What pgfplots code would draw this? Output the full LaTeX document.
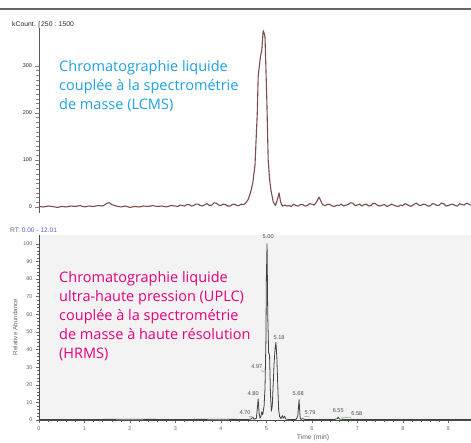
\documentclass[border=0pt]{standalone}
\usepackage{fontspec}
\setmainfont{Liberation Sans}
\newfontfamily\opensans{Open Sans}
\usepackage{pgfplots}
\pgfplotsset{compat=1.18}

\definecolor{lcblue}{RGB}{30,160,225}
\definecolor{uppink}{RGB}{228,0,125}
\definecolor{trace}{RGB}{125,75,75}
\definecolor{panelgray}{RGB}{243,243,243}
\definecolor{rtblue}{RGB}{80,100,200}
\definecolor{pkgreen}{RGB}{110,190,110}

\begin{document}
\begin{tikzpicture}[x=1pt,y=1pt]
\path[use as bounding box] (0,0) rectangle (471,442);
\draw[black!60, line width=1.5pt] (0,433) -- (471,433);

% LCMS
\begin{axis}[
  at={(39pt,229.4pt)}, anchor=south west,
  scale only axis, width=432pt, height=191.3pt,
  xmin=0, xmax=9.5, ymin=-12, ymax=395,
  axis x line=none, axis y line=left,
  axis line style={-, black!65, line width=0.9pt},
  ytick={0,100,200,300}, minor y tick num=9,
  tick align=outside, major tick length=3.5pt, minor tick length=2.5pt,
  tick style={black!50, line width=0.4pt},
  yticklabel style={font=\fontsize{5.5}{6}\selectfont, text=black!85},
  /pgf/number format/assume math mode=true,
]
\addplot[trace, line width=1.1pt, line join=round] coordinates {
(0.0,1) (0.1,0) (0.2,2) (0.3,1) (0.4,-1) (0.5,1) (0.6,0) (0.7,2) (0.8,1) (0.9,3)
(1.0,0) (1.1,2) (1.2,1) (1.3,3) (1.4,2) (1.5,8) (1.55,9) (1.6,5) (1.7,2) (1.8,0)
(1.9,2) (2.0,-1) (2.1,1) (2.2,0) (2.3,2) (2.4,1) (2.5,3) (2.6,1) (2.7,2) (2.8,0)
(2.9,3) (3.00,2) (3.05,1) (3.10,4) (3.15,3) (3.20,2) (3.25,5) (3.30,5) (3.35,2)
(3.40,3) (3.45,6) (3.50,6) (3.55,3) (3.60,2) (3.65,5) (3.70,7) (3.75,3) (3.80,4)
(3.85,9) (3.90,8) (3.95,4) (4.00,3) (4.05,6) (4.10,5) (4.15,2) (4.20,2) (4.25,5)
(4.30,6) (4.35,3) (4.40,3) (4.45,6) (4.50,5) (4.55,9) (4.6,16) (4.65,30)
(4.7,50) (4.75,89) (4.8,200) (4.82,277) (4.87,320) (4.90,334) (4.93,375) (4.95,370)
(4.97,362) (5.01,228) (5.04,100) (5.07,60) (5.10,36) (5.15,11) (5.2,3) (5.25,18)
(5.28,30) (5.31,12) (5.35,2)
(5.40,4) (5.45,2) (5.50,3) (5.55,1) (5.60,6) (5.65,3) (5.70,2) (5.75,5) (5.80,5)
(5.85,2) (5.90,3) (5.95,7) (6.00,6) (6.05,4) (6.10,10) (6.16,21) (6.22,8) (6.25,4)
(6.30,3) (6.35,6) (6.40,5) (6.45,2) (6.50,1) (6.55,4) (6.60,3) (6.65,6) (6.70,2)
(6.75,4) (6.80,5) (6.85,9) (6.90,8) (6.95,3) (7.00,4) (7.05,6) (7.10,2) (7.15,5)
(7.20,6) (7.25,2) (7.30,3) (7.35,8) (7.40,7) (7.45,3) (7.50,2) (7.55,4) (7.60,5)
(7.65,1) (7.70,3) (7.75,6) (7.80,4) (7.85,2) (7.90,1) (7.95,4) (8.00,3) (8.05,7)
(8.10,5) (8.15,2) (8.20,2) (8.25,6) (8.30,8) (8.35,4) (8.40,3) (8.45,6) (8.50,5)
(8.55,2) (8.60,2) (8.65,7) (8.70,6) (8.75,3) (8.80,4) (8.85,8) (8.90,7) (8.95,2)
(9.00,3) (9.05,5) (9.10,6) (9.15,3) (9.20,2) (9.25,7) (9.30,5) (9.35,4) (9.40,8)
(9.45,6) (9.50,4)
};
\end{axis}

% UPLC-HRMS
\begin{axis}[
  at={(39pt,22pt)}, anchor=south west,
  scale only axis, width=432pt, height=185pt,
  xmin=0, xmax=9.5, ymin=0, ymax=105,
  axis lines=left,
  axis line style={-, black!70, line width=0.6pt},
  axis background/.style={fill=panelgray},
  xtick={0,1,...,9}, minor x tick num=4,
  ytick={0,10,...,100}, minor y tick num=4,
  tick align=outside, major tick length=3pt, minor tick length=1.8pt,
  tick style={black!60, line width=0.4pt},
  ticklabel style={font=\fontsize{5.5}{6}\selectfont, text=black!60},
  /pgf/number format/assume math mode=true,
  clip mode=individual,
]
\addplot[black!75, line width=0.8pt, line join=round] coordinates {
(0,0.3) (1,0.3) (2,0.4) (3,0.3) (4,0.4) (4.6,0.3) (4.66,0.5) (4.70,1.6) (4.73,0.4)
(4.78,1.0) (4.80,6) (4.82,12) (4.84,4) (4.86,1) (4.88,2) (4.90,4.7) (4.92,3)
(4.95,8) (4.97,18) (4.99,45) (5.00,80) (5.015,100) (5.03,60) (5.05,38) (5.07,37)
(5.09,15) (5.11,5) (5.13,8) (5.15,20) (5.17,32) (5.19,40) (5.21,44) (5.23,36)
(5.25,20) (5.27,6) (5.29,2) (5.32,0.8) (5.35,2.5) (5.37,1) (5.40,2.2) (5.43,0.5)
(5.5,0.3) (5.65,0.3) (5.69,2) (5.72,11.5) (5.74,2) (5.76,0.3) (5.80,0.8) (5.85,0.3)
(6.50,0.3) (6.56,0.8) (6.58,1.6) (6.61,0.5) (6.70,0.3) (9.5,0.3)
};
\draw[pkgreen, line width=0.6pt] (axis cs:4.88,28) -- (axis cs:5.0,27);
\draw[pkgreen, line width=0.6pt] (axis cs:4.62,2.0) -- (axis cs:4.72,1.6);
\draw[pkgreen, line width=0.6pt] (axis cs:5.84,2.0) -- (axis cs:5.95,1.8);
\draw[pkgreen, line width=0.6pt] (axis cs:6.64,1.2) -- (axis cs:6.86,1.6);
\begin{scope}[every node/.style={font=\fontsize{5.6}{6}\selectfont, text=black!70, inner sep=0}]
\node at (axis cs:5.04,104) {5.00};
\node at (axis cs:4.79,30.5) {4.97};
\node at (axis cs:4.71,14.8) {4.80};
\node at (axis cs:4.53,4) {4.70};
\node at (axis cs:5.28,46.6) {5.18};
\node at (axis cs:5.70,14.8) {5.68};
\node at (axis cs:5.96,4) {5.79};
\node at (axis cs:6.58,5.1) {6.55};
\node at (axis cs:6.99,3.4) {6.58};
\end{scope}
\end{axis}

% small labels
\node[anchor=base west, inner sep=0, font=\fontsize{6.8}{8}\selectfont, text=black!85] at (12,415) {kCount.};
\fill[black!25] (38,413.5) rectangle (39.5,420);
\node[anchor=base west, inner sep=0, font=\fontsize{6.8}{8}\selectfont, text=black!85] at (41,415) {250 : 1500};
\node[anchor=base west, inner sep=0, font=\fontsize{6.6}{8}\selectfont] at (10,209.5) {\textcolor{black!60}{RT:} \textcolor{rtblue}{0.00 - 12.01}};
\node[rotate=90, inner sep=0, font=\fontsize{6.3}{8}\selectfont, text=black!60] at (15,115) {Relative Abundance};
\node[inner sep=0, font=\fontsize{6.8}{8}\selectfont, text=black!60] at (313,4.5) {Time (min)};

% annotations
\begin{scope}[every node/.style={anchor=base west, inner sep=0, font=\opensans\fontsize{14.5}{19}\selectfont}]
\node[text=lcblue] at (59,370) {Chromatographie liquide};
\node[text=lcblue] at (59,351) {couplée à la spectrométrie};
\node[text=lcblue] at (59,332) {de masse (LCMS)};
\node[text=uppink] at (59,159) {Chromatographie liquide};
\node[text=uppink] at (59,140.2) {ultra-haute pression (UPLC)};
\node[text=uppink] at (59,121.4) {couplée à la spectrométrie};
\node[text=uppink] at (59,102.6) {de masse à haute résolution};
\node[text=uppink] at (59,83.8) {(HRMS)};
\end{scope}
\end{tikzpicture}
\end{document}
